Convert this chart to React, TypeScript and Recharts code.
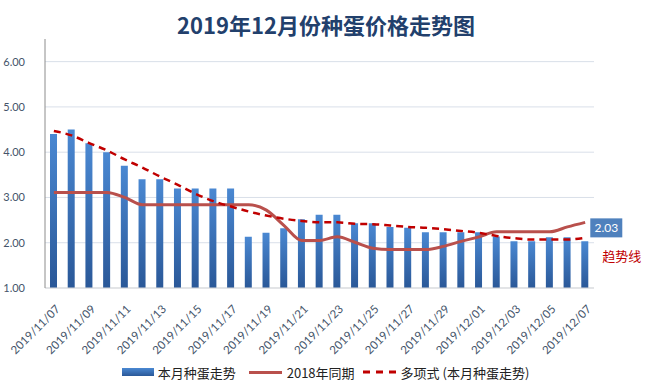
import React from "react";
import { ComposedChart, Bar, Line, XAxis, YAxis, CartesianGrid, LabelList } from "recharts";

const dates = [
  "2019/11/07","2019/11/08","2019/11/09","2019/11/10","2019/11/11","2019/11/12","2019/11/13","2019/11/14",
  "2019/11/15","2019/11/16","2019/11/17","2019/11/18","2019/11/19","2019/11/20","2019/11/21","2019/11/22",
  "2019/11/23","2019/11/24","2019/11/25","2019/11/26","2019/11/27","2019/11/28","2019/11/29","2019/11/30",
  "2019/12/01","2019/12/02","2019/12/03","2019/12/04","2019/12/05","2019/12/06","2019/12/07",
];
const currentMonth = [
  4.40, 4.50, 4.20, 4.00, 3.70, 3.40, 3.40, 3.20, 3.20, 3.20, 3.20, 2.13, 2.22, 2.32, 2.52, 2.62,
  2.62, 2.43, 2.43, 2.35, 2.33, 2.23, 2.23, 2.23, 2.23, 2.14, 2.03, 2.03, 2.12, 2.12, 2.03,
];
const lastYear = [
  3.11, 3.11, 3.11, 3.11, 3.00, 2.84, 2.84, 2.84, 2.84, 2.84, 2.84, 2.84, 2.72, 2.38, 2.05, 2.05,
  2.13, 2.01, 1.88, 1.85, 1.85, 1.85, 1.92, 2.03, 2.13, 2.24, 2.24, 2.24, 2.24, 2.35, 2.45,
];
const trend = [
  4.47, 4.37, 4.20, 4.04, 3.84, 3.66, 3.46, 3.28, 3.08, 2.92, 2.80, 2.69, 2.60, 2.53, 2.48, 2.45,
  2.45, 2.42, 2.41, 2.38, 2.35, 2.33, 2.30, 2.26, 2.22, 2.15, 2.10, 2.07, 2.07, 2.07, 2.11,
];
const yTicks = [1, 2, 3, 4, 5, 6];

const data = dates.map((d, i) => ({ date: d, cur: currentMonth[i], ly: lastYear[i], tr: trend[i] }));

const CJK = '"Noto Sans CJK SC", "Noto Sans", sans-serif';
const NUM = 'Lato, "Noto Sans", sans-serif';
const LABEL_COLOR = "#44546a";

const XTick = (props: any) => {
  const { x, y, payload } = props;
  return (
    <g transform={`translate(${x + 4},${y + 11})`}>
      <text x={0} y={0} dy={4} textAnchor="end" transform="rotate(-45)" fontSize={11.5} fontFamily={NUM} fill={LABEL_COLOR}>
        {payload.value}
      </text>
    </g>
  );
};

const BarLabel = (p: any) => {
  if (p.index !== currentMonth.length - 1) return null;
  const x = Number(p.x) + Number(p.width) + 2;
  const y = Number(p.y) - 23;
  return (
    <g>
      <rect x={x} y={y} width={32} height={19} fill="#4f81bd" />
      <text x={x + 16} y={y + 14} textAnchor="middle" fill="#ffffff" fontSize={12} fontFamily={NUM}>
        {Number(p.value).toFixed(2)}
      </text>
    </g>
  );
};

const TrendLabel = (p: any) => {
  if (p.index !== trend.length - 1) return null;
  return (
    <text x={Number(p.x) + 17} y={Number(p.y) + 23} fill="#c00000" fontSize={13} fontFamily={CJK}>
      趋势线
    </text>
  );
};

export default function App() {
  return (
    <div style={{ position: "absolute", left: 0, top: 0, width: 645, height: 391, background: "#ffffff" }}>
      <div
        style={{
          position: "absolute",
          left: 0,
          top: 9,
          width: 652,
          textAlign: "center",
          fontFamily: CJK,
          fontWeight: 700,
          fontSize: 22,
          color: "#22406c",
          lineHeight: "30px",
        }}
      >
        2019年12月份种蛋价格走势图
      </div>
      <ComposedChart width={645} height={391} data={data} margin={{ top: 39, right: 51, left: 0, bottom: 0 }}>
        <defs>
          <linearGradient id="barGrad" x1="0" y1="0" x2="0" y2="1">
            <stop offset="0%" stopColor="#4a88d2" />
            <stop offset="100%" stopColor="#2a5898" />
          </linearGradient>
        </defs>
        <CartesianGrid vertical={false} horizontal={true} stroke="#d9dfe9" strokeWidth={1} horizontalValues={yTicks} />
        <XAxis
          dataKey="date"
          interval={1}
          height={103}
          tick={<XTick />}
          tickLine={false}
          axisLine={{ stroke: "#d9d9d9" }}
        />
        <YAxis
          width={45}
          domain={[1, 6.5]}
          ticks={yTicks}
          allowDataOverflow
          tickFormatter={(v: number) => v.toFixed(2)}
          tick={{ fontSize: 11, fontFamily: NUM, fill: LABEL_COLOR }}
          tickLine={false}
          tickMargin={14}
          axisLine={{ stroke: "#8c8c8c" }}
        />
        <Bar dataKey="cur" barSize={7} fill="url(#barGrad)" isAnimationActive={false}>
          <LabelList dataKey="cur" content={BarLabel} />
        </Bar>
        <Line type="monotone" dataKey="ly" stroke="#b9504c" strokeWidth={3} dot={false} isAnimationActive={false} />
        <Line
          type="monotone"
          dataKey="tr"
          stroke="#c00000"
          strokeWidth={2.5}
          strokeDasharray="7 5"
          dot={false}
          isAnimationActive={false}
        >
          <LabelList dataKey="tr" content={TrendLabel} />
        </Line>
      </ComposedChart>
      <div
        style={{
          position: "absolute",
          left: 0,
          top: 362,
          width: 645,
          height: 20,
          display: "flex",
          alignItems: "center",
          justifyContent: "center",
          fontFamily: CJK,
          fontSize: 13,
          color: "#222222",
          paddingLeft: 6,
          boxSizing: "border-box",
        }}
      >
        <span style={{ display: "inline-block", width: 32, height: 8, background: "linear-gradient(#4a88d2,#2a5898)", marginRight: 4 }} />
        <span style={{ marginRight: 13 }}>本月种蛋走势</span>
        <span style={{ display: "inline-block", width: 33, height: 3, background: "#b9504c", marginRight: 5 }} />
        <span style={{ marginRight: 8 }}>2018年同期</span>
        <svg width={34} height={4} style={{ marginRight: 4 }}>
          <line x1={0} y1={2} x2={34} y2={2} stroke="#c00000" strokeWidth={3} strokeDasharray="7 6" />
        </svg>
        <span>多项式 (本月种蛋走势)</span>
      </div>
    </div>
  );
}
